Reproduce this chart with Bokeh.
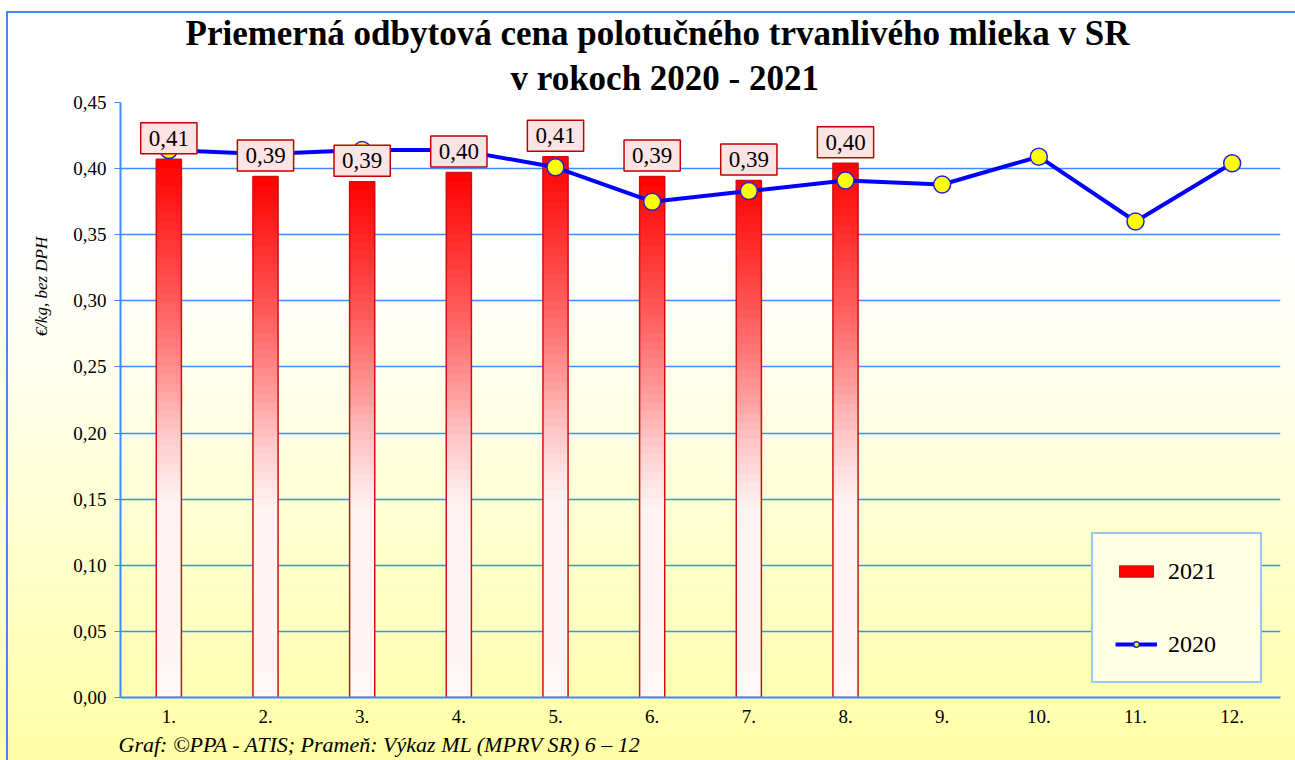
from bokeh.plotting import figure
from bokeh.models import (Label, Legend, LegendItem, ColumnDataSource, Title,
                          CustomJSTickFormatter, FixedTicker, Range1d)
from bokeh.embed import file_html
from bokeh.resources import INLINE

# ---------------- data ----------------
months = ["1.", "2.", "3.", "4.", "5.", "6.", "7.", "8.", "9.", "10.", "11.", "12."]
month_pos = list(range(1, 13))
values_2021 = [0.407, 0.394, 0.390, 0.397, 0.409, 0.394, 0.391, 0.404]
values_2020 = [0.414, 0.411, 0.414, 0.414, 0.401, 0.375, 0.383, 0.391,
               0.388, 0.409, 0.360, 0.404]
y_ticks = [0.0, 0.05, 0.10, 0.15, 0.20, 0.25, 0.30, 0.35, 0.40, 0.45]
title_lines = ["Priemerná odbytová cena polotučného trvanlivého mlieka v SR",
               "v rokoch 2020 - 2021"]
y_label = "€/kg,  bez DPH"
caption = "Graf: ©PPA - ATIS; Prameň: Výkaz ML (MPRV SR) 6 – 12"

SERIF = "Liberation Serif"
GRID_BLUE = "#3b8cff"

p = figure(width=1295, height=760, output_backend="svg", toolbar_location=None,
           x_range=Range1d(0.5, 12.5), y_range=Range1d(0, 0.45),
           min_border_left=120, min_border_right=15, min_border_top=102,
           min_border_bottom=62, title=None)
p.styles = {"background": ("linear-gradient(#3d8bff,#3d8bff) 6px 11px / 100% 2px no-repeat, "
                           "linear-gradient(#3d8bff,#3d8bff) 6px 11px / 2px 100% no-repeat, "
                           "linear-gradient(to bottom, #ffffff 0%, #ffffff 33%, #fffff0 47%, #ffffa6 100%)")}
p.border_fill_alpha = 0
p.background_fill_alpha = 0
p.outline_line_color = None

# axes
p.yaxis.ticker = FixedTicker(ticks=y_ticks)
p.yaxis.formatter = CustomJSTickFormatter(code="return tick.toFixed(2).replace('.', ',');")
p.xaxis.ticker = FixedTicker(ticks=month_pos)
p.xaxis.major_label_overrides = {m: lab for m, lab in zip(month_pos, months)}
for ax in (p.xaxis[0], p.yaxis[0]):
    ax.major_label_text_font = SERIF
    ax.major_label_text_font_size = "19px"
    ax.major_label_text_color = "black"
    ax.axis_line_color = GRID_BLUE
    ax.axis_line_width = 2
    ax.minor_tick_line_color = None
p.yaxis.major_tick_line_color = GRID_BLUE
p.yaxis.major_tick_out = 6
p.yaxis.major_tick_in = 0
p.yaxis.major_label_standoff = 8
p.xaxis.major_tick_line_color = None
p.xaxis.major_tick_out = 0
p.xaxis.major_label_standoff = 12

p.xgrid.grid_line_color = None
p.ygrid.grid_line_color = GRID_BLUE
p.ygrid.grid_line_width = 1.5

# ---------------- 2021 bars with vertical gradient ----------------
N = 60
stops = [(0.0, 246), (0.37, 242), (0.49, 200), (0.61, 144), (0.74, 90), (0.86, 48), (1.0, 0)]


def gb_at(f):
    for (f0, c0), (f1, c1) in zip(stops[:-1], stops[1:]):
        if f <= f1:
            t = (f - f0) / (f1 - f0)
            return int(round(c0 + (c1 - c0) * t))
    return stops[-1][1]


seg = dict(x=[], bottom=[], top=[], color=[])
for j in range(N - 1, -1, -1):  # top level first
    f = (j + 0.5) / N
    g = gb_at(f)
    col = "#ff%02x%02x" % (g, g)
    for i, v in enumerate(values_2021):
        seg["x"].append(month_pos[i])
        seg["bottom"].append(v * max(j - 1, 0) / N)
        seg["top"].append(v * (j + 1) / N)
        seg["color"].append(col)

bar_w = 0.26
seg_r = p.vbar(x="x", bottom="bottom", top="top", width=bar_w, source=ColumnDataSource(seg),
               fill_color="color", line_color=None)
out_r = p.vbar(x=month_pos[:len(values_2021)], top=values_2021, bottom=0, width=bar_w,
               fill_alpha=0, line_color="#d01010", line_width=1.5)

# ---------------- 2020 line ----------------
line_r = p.line(month_pos, values_2020, line_color="#0000ff", line_width=4)
circ_r = p.scatter(month_pos, values_2020, marker="circle", size=17,
                   fill_color="#ffff00", line_color="#2222dd", line_width=1.5)

# data labels for 2021
for i, v in enumerate(values_2021):
    txt = f"{v:.2f}".replace(".", ",")
    p.add_layout(Label(x=month_pos[i], y=v, y_offset=21, text=txt,
                       text_align="center", text_baseline="middle",
                       text_font=SERIF, text_font_size="23px", text_color="black",
                       background_fill_color="#fde4e4", border_line_color="#c00000",
                       border_line_width=1.5,
                       padding=dict(left=8, right=8, top=8, bottom=8)))

# title (two lines, first added is closest to the frame)
p.add_layout(Title(text=title_lines[1], align="left", offset=390, standoff=9,
                   text_font=SERIF, text_font_size="35px", text_font_style="bold",
                   text_color="black"), "above")
p.add_layout(Title(text=title_lines[0], align="left", offset=65, standoff=0,
                   text_font=SERIF, text_font_size="35px", text_font_style="bold",
                   text_color="black"), "above")
# blank spacer above the title
p.add_layout(Title(text=" ", align="left", standoff=6, text_font_size="2px"), "above")

# y axis label
p.add_layout(Title(text=y_label, align="right", offset=130, standoff=40,
                   text_font=SERIF, text_font_size="17px", text_font_style="italic",
                   text_color="black"), "left")

# caption
p.add_layout(Title(text=caption, align="left", offset=-2, standoff=8,
                   text_font=SERIF, text_font_size="22px", text_font_style="italic",
                   text_color="black"), "below")

legend = Legend(items=[LegendItem(label="2021", renderers=[seg_r, out_r], index=7),
                       LegendItem(label="2020", renderers=[line_r, circ_r])],
                location=(971, 14), orientation="vertical",
                background_fill_color="#ffffe6", background_fill_alpha=1,
                border_line_color=GRID_BLUE, border_line_width=2,
                label_text_font=SERIF, label_text_font_size="24px",
                label_text_color="black",
                glyph_width=42, glyph_height=14, label_height=30, label_width=70,
                spacing=43, padding=22, label_standoff=11, margin=0)
p.add_layout(legend)

open("out.html", "w").write(file_html(p, INLINE))
